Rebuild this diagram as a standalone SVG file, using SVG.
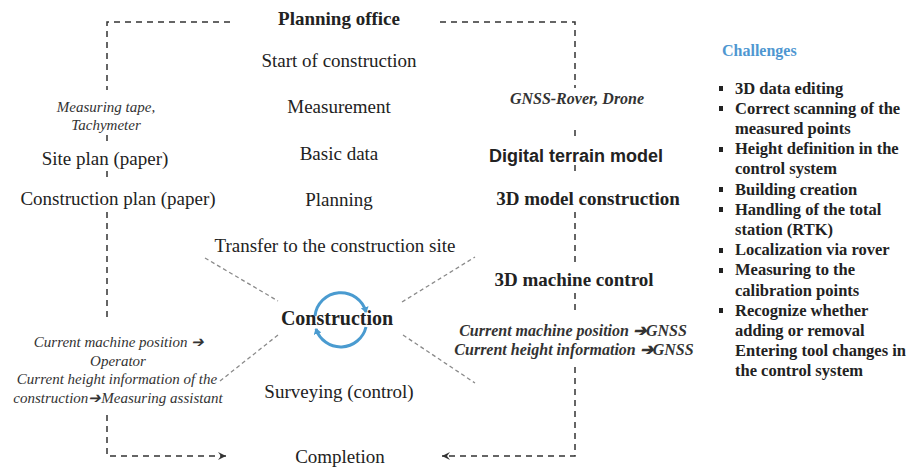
<svg xmlns="http://www.w3.org/2000/svg" width="913" height="469" viewBox="0 0 913 469">
<style>
.t{font-family:"Liberation Serif","DejaVu Serif",serif;font-size:19px;fill:#222;text-anchor:middle}
.b{font-weight:bold}
.s{font-family:"Liberation Sans",Arial,sans-serif;font-weight:bold;font-size:18px;fill:#222;text-anchor:middle}
.i{font-family:"Liberation Serif","DejaVu Serif",serif;font-style:italic;font-size:15px;fill:#333;text-anchor:middle}
.bi{font-family:"Liberation Serif","DejaVu Serif",serif;font-style:italic;font-weight:bold;font-size:16px;fill:#333;text-anchor:middle}
.ch{font-family:"Liberation Serif","DejaVu Serif",serif;font-weight:bold;font-size:16.5px;fill:#222}
.chh{font-family:"Liberation Serif","DejaVu Serif",serif;font-weight:bold;font-size:16px;fill:#4f97d1}
.flow{fill:none;stroke:#333;stroke-width:1.5;stroke-dasharray:6 5}
.diag{fill:none;stroke:#8a8a8a;stroke-width:1.3;stroke-dasharray:4 3}
.cyc{fill:none;stroke:#4a9bd0;stroke-width:3}
.bul{fill:#222}
</style>
<defs>
<marker id="ah" markerWidth="10" markerHeight="10" refX="8" refY="4" orient="auto" markerUnits="userSpaceOnUse">
<path d="M0,0 L8,4 L0,8 L3,4 z" fill="#333"/>
</marker>
<marker id="bh" markerWidth="10" markerHeight="10" refX="5" refY="4" orient="auto" markerUnits="userSpaceOnUse">
<path d="M0,0 L6,4 L0,8 z" fill="#4a9bd0"/>
</marker>
</defs>

<g id="connectors">
<path class="flow" d="M230,22 H107 V90 M107,135 V141 M107,171 V177 M107,212 V322 M107,415 V456 H226" marker-end="url(#ah)"/>
<path class="flow" d="M440,22 H575 V88 M575,130 V138 M575,165 V171 M575,212 V262 M575,293 V312 M575,367 V456 H442" marker-end="url(#ah)"/>
<line class="diag" x1="205" y1="258" x2="278" y2="301"/>
<line class="diag" x1="220" y1="381" x2="278" y2="335"/>
<line class="diag" x1="402" y1="302" x2="475" y2="257"/>
<line class="diag" x1="403" y1="335" x2="475" y2="383"/>
</g>

<g id="cycle">
<path class="cyc" d="M315,316 A26,26 0 0 1 366,312" marker-end="url(#bh)"/>
<path class="cyc" d="M366,327 A26,26 0 0 1 316,329" marker-end="url(#bh)"/>
</g>

<g id="planning-office"><text class="t b" x="339" y="25">Planning office</text></g>
<g id="start"><text class="t" x="339" y="67">Start of construction</text></g>
<g id="measurement"><text class="t" x="339" y="113">Measurement</text></g>
<g id="basic-data"><text class="t" x="339" y="160">Basic data</text></g>
<g id="planning"><text class="t" x="339" y="206">Planning</text></g>
<g id="transfer"><text class="t" x="335" y="252">Transfer to the construction site</text></g>
<g id="construction"><text class="t b" x="337" y="325" style="font-size:20px">Construction</text></g>
<g id="surveying"><text class="t" x="339" y="398">Surveying (control)</text></g>
<g id="completion"><text class="t" x="340" y="463">Completion</text></g>

<g id="tools-left"><text class="i" x="106" y="112">Measuring tape,</text><text class="i" x="106" y="130">Tachymeter</text></g>
<g id="site-plan"><text class="t" x="105" y="165">Site plan (paper)</text></g>
<g id="construction-plan"><text class="t" x="118" y="205">Construction plan (paper)</text></g>
<g id="info-left">
<text class="i" x="119" y="347">Current machine position ➔</text>
<text class="i" x="118" y="366">Operator</text>
<text class="i" x="117" y="384">Current height information of the</text>
<text class="i" x="118" y="403">construction➔Measuring assistant</text>
</g>

<g id="tools-right"><text class="bi" x="577" y="104">GNSS-Rover, Drone</text></g>
<g id="dtm"><text class="s" x="576" y="162">Digital terrain model</text></g>
<g id="model3d"><text class="t b" x="588" y="205">3D model construction</text></g>
<g id="machine-control"><text class="t b" x="574" y="286">3D machine control</text></g>
<g id="info-right">
<text class="bi" x="573" y="336">Current machine position ➔GNSS</text>
<text class="bi" x="574" y="355">Current height information ➔GNSS</text>
</g>

<g id="challenges">
<text class="chh" x="722" y="56">Challenges</text>
<rect class="bul" x="719" y="86" width="4" height="5"/>
<text class="ch" x="735" y="93.5">3D data editing</text>
<rect class="bul" x="719" y="106" width="4" height="5"/>
<text class="ch" x="735" y="113.7">Correct scanning of the</text>
<text class="ch" x="735" y="133.9">measured points</text>
<rect class="bul" x="719" y="147" width="4" height="5"/>
<text class="ch" x="735" y="154.1">Height definition in the</text>
<text class="ch" x="735" y="174.3">control system</text>
<rect class="bul" x="719" y="187" width="4" height="5"/>
<text class="ch" x="735" y="194.5">Building creation</text>
<rect class="bul" x="719" y="207" width="4" height="5"/>
<text class="ch" x="735" y="214.7">Handling of the total</text>
<text class="ch" x="735" y="234.9">station (RTK)</text>
<rect class="bul" x="719" y="248" width="4" height="5"/>
<text class="ch" x="735" y="255.1">Localization via rover</text>
<rect class="bul" x="719" y="268" width="4" height="5"/>
<text class="ch" x="735" y="275.3">Measuring to the</text>
<text class="ch" x="735" y="295.5">calibration points</text>
<rect class="bul" x="719" y="308" width="4" height="5"/>
<text class="ch" x="735" y="315.7">Recognize whether</text>
<text class="ch" x="735" y="335.9">adding or removal</text>
<text class="ch" x="735" y="356.1">Entering tool changes in</text>
<text class="ch" x="735" y="376.3">the control system</text>
</g>
</svg>
